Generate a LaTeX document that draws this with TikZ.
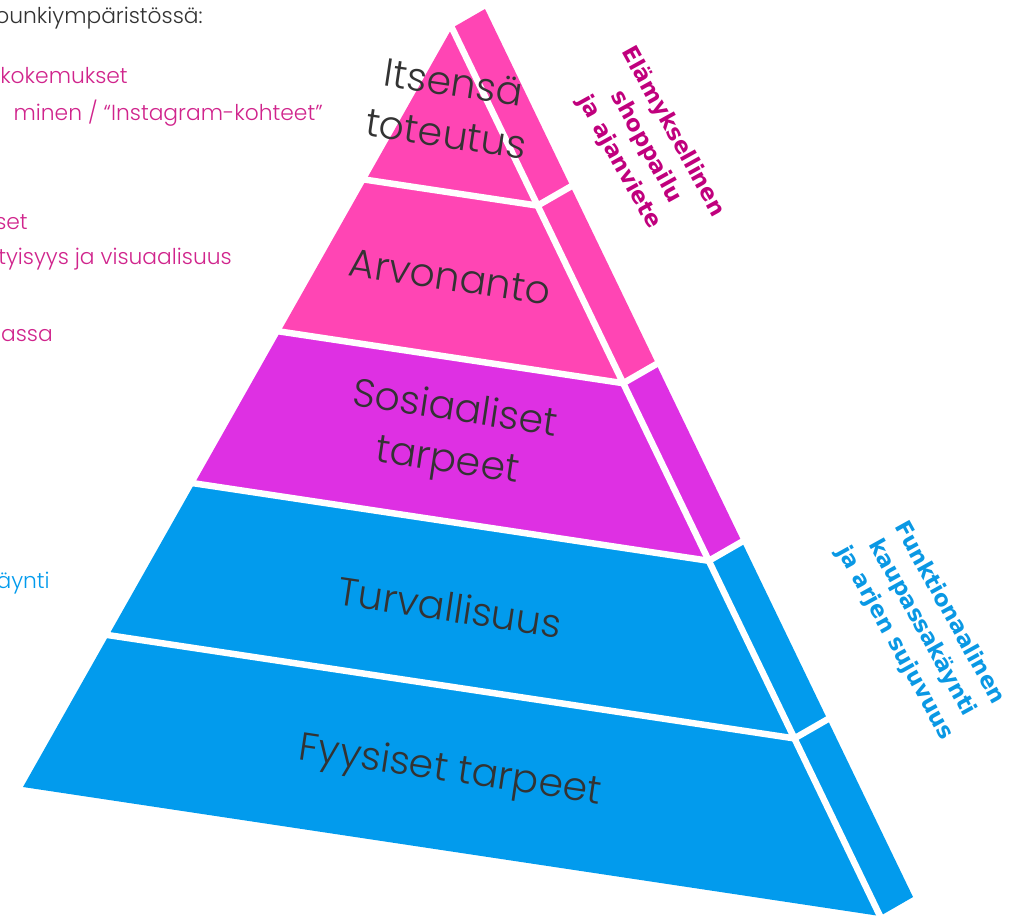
\documentclass[tikz,border=0pt]{standalone}
\usepackage{fontspec}
\setmainfont{Poppins Light}
\newfontfamily\boldlbl{DejaVu Sans}
\usetikzlibrary{calc}
\definecolor{pinkband}{HTML}{FF45B4}
\definecolor{magband}{HTML}{DE30E3}
\definecolor{blueband}{HTML}{029BED}
\definecolor{lvlgray}{HTML}{333333}
\definecolor{leftpink}{HTML}{D0248C}
\definecolor{ttlpink}{HTML}{C0007D}
\definecolor{ttlblue}{HTML}{0A98E4}
\tikzset{
  lvl/.style={font=\fontsize{28}{37}\selectfont,text=lvlgray,align=center,rotate=-8.5,inner sep=0pt},
  sidelbl/.style={font=\boldlbl\bfseries\fontsize{16}{22}\selectfont,align=center,rotate=-61,inner sep=0pt},
  cuttxt/.style={font=\fontsize{15.5}{20}\selectfont,anchor=east,inner sep=0pt},
  gap/.style={white,line width=4.6pt}
}

\begin{document}
\begin{tikzpicture}[x=0.025cm,y=-0.025cm]
  \useasboundingbox (0,0) rectangle (1023,917);
  % Pyramid corners
  \coordinate (A) at (452,28);
  \coordinate (BL) at (23,787);
  \coordinate (BR) at (880,916);
  \coordinate (off) at (33,-19);
  \foreach \k in {0,...,5} {
    \coordinate (L\k) at ($(A)!\k/5!(BL)$);
    \coordinate (R\k) at ($(A)!\k/5!(BR)$);
    \coordinate (S\k) at ($(R\k)+(off)$);
  }

  % Bands, front and side
  \foreach \k/\kk/\c in {0/1/pinkband,1/2/pinkband,2/3/magband,3/4/blueband,4/5/blueband} {
    \fill[\c] (L\k) -- (R\k) -- (R\kk) -- (L\kk) -- cycle;
    \fill[\c] (R\k) -- (S\k) -- (S\kk) -- (R\kk) -- cycle;
  }

  % White gaps
  \foreach \k in {1,...,4} {
    \draw[gap, shorten <=-4pt] (L\k) -- (R\k);
    \draw[gap, shorten >=-4pt] (R\k) -- (S\k);
  }
  \draw[gap, shorten <=-2pt, shorten >=-4pt] (A) -- (BR);

  % Level labels
  \node[lvl] (itse) at (450,108) {Itsensä\\toteutus};
  \node[lvl] (arvo) at (450,277) {Arvonanto};
  \node[lvl] (sosi) at (451,437) {Sosiaaliset\\tarpeet};
  \node[lvl] (turv) at (450,607) {Turvallisuus};
  \node[lvl] (fyys) at (450,772) {Fyysiset tarpeet};

  % Side labels
  \node[sidelbl, text=ttlpink] (elam) at (646,147) {Elämyksellinen\\shoppailu\\ja ajanviete};
  \node[sidelbl, text=ttlblue] (funk) at (922,628) {Funktionaalinen\\kaupassakäynti\\ja arjen sujuvuus};

  % Cut-off texts on the left
  \node[cuttxt, text=lvlgray] (ymp) at (203,18) {ounkiympäristössä:};
  \node[cuttxt, text=leftpink] (koke) at (128,76) {kokemukset};
  \node[cuttxt, text=leftpink] (inst) at (323,113) {minen / “Instagram-kohteet”};
  \node[cuttxt, text=leftpink] (set) at (28,222) {set};
  \node[cuttxt, text=leftpink] (visu) at (232,259) {tyisyys ja visuaalisuus};
  \node[cuttxt, text=leftpink] (lass) at (53,334) {lassa};
  \node[cuttxt, text=blueband] (aynt) at (50,583) {äynti};
\end{tikzpicture}
\end{document}
